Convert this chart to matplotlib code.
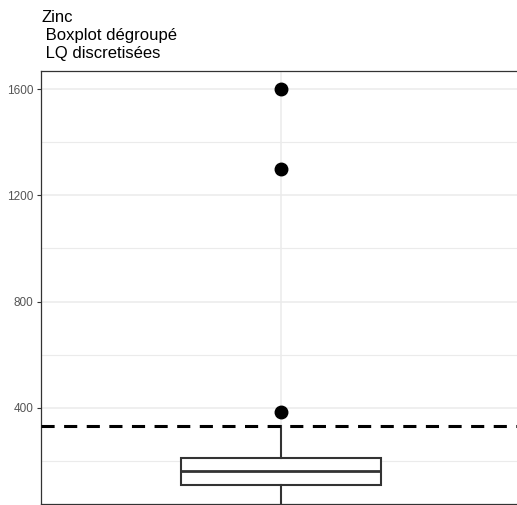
import matplotlib
matplotlib.use("Agg")
from matplotlib import pyplot as plt

# valeurs
zinc_quartiles = [110, 163, 212]      # q1, mediane, q3
zinc_whiskers = [10, 330]             # moustache basse, haute
zinc_outliers = [383, 1300, 1600]
lq_value = 331
y_ticks = [400, 800, 1200, 1600]
y_minor = [200, 600, 1000, 1400]
title = "Zinc\n Boxplot dégroupé\n LQ discretisées"

plt.rcParams['font.family'] = ['Liberation Sans', 'DejaVu Sans']


def main():
    W, H = 517, 505
    fig = plt.figure(figsize=(W / 100, H / 100), dpi=100)
    # panneau coupé a droite comme sur l'image d'origine
    ax = fig.add_axes([41 / W, 1 / H, (521 - 41) / W, (504 - 70.5) / H])

    stats = [dict(q1=zinc_quartiles[0], med=zinc_quartiles[1], q3=zinc_quartiles[2],
                  whislo=zinc_whiskers[0], whishi=zinc_whiskers[1],
                  fliers=zinc_outliers)]
    ax.bxp(stats, positions=[1], widths=0.75, showcaps=False, patch_artist=True,
           boxprops=dict(facecolor='white', edgecolor='#333333', linewidth=1.5),
           medianprops=dict(color='#333333', linewidth=2.0),
           whiskerprops=dict(color='#333333', linewidth=1.5),
           flierprops=dict(marker='o', markerfacecolor='black', markeredgecolor='black',
                           markersize=9),
           zorder=3)

    ax.axhline(lq_value, color='black', linewidth=2.2, linestyle=(0, (4.3, 3.1)), zorder=4)

    ax.set_xlim(0.1, 1.9)
    ax.set_ylim(38, 1670)
    ax.set_yticks(y_ticks)
    ax.set_yticks(y_minor, minor=True)
    ax.set_xticks([1])
    ax.set_xticklabels([''])
    ax.tick_params(axis='x', length=0)
    ax.tick_params(axis='y', which='major', length=2.9, width=0.8, color='#333333',
                   labelcolor='#555555', labelsize=8.5, pad=2.5)
    ax.tick_params(axis='y', which='minor', length=0)

    ax.grid(True, which='major', color='#EBEBEB', linewidth=1.1, zorder=0)
    ax.grid(True, which='minor', axis='y', color='#EBEBEB', linewidth=0.8, zorder=0)
    ax.set_axisbelow(True)
    for sp in ax.spines.values():
        sp.set_color('#333333')
        sp.set_linewidth(0.9)

    fig.text(41 / W, 1 - 9.5 / H, title, ha='left', va='top', fontsize=12,
             color='black', linespacing=1.27)

    fig.savefig("out.png", dpi=100)


if __name__ == "__main__":
    main()
